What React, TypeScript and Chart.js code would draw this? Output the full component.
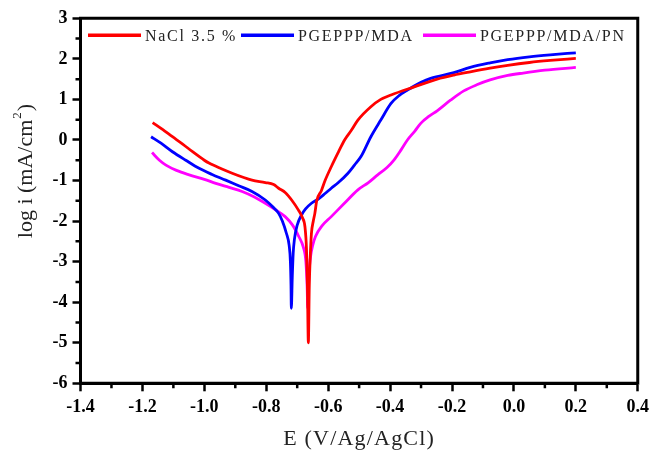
import React, { useEffect, useRef } from "react";
import { Chart, registerables } from "chart.js";

Chart.register(...registerables);

// ---- data ----
const seriesNames = ["NaCl 3.5 %", "PGEPPP/MDA", "PGEPPP/MDA/PN"];
const seriesColors = ["#ff0000", "#0000ff", "#ff00ff"];

const naclE = [-1.167, -1.135, -1.103, -1.07, -1.038, -1.0, -0.985, -0.945, -0.91, -0.875, -0.846, -0.803, -0.776, -0.76, -0.738, -0.718, -0.696, -0.683, -0.675, -0.67, -0.667, -0.664, -0.661, -0.658, -0.654, -0.648, -0.643, -0.637, -0.622, -0.61, -0.59, -0.567, -0.547, -0.524, -0.504, -0.462, -0.43, -0.397, -0.322, -0.248, -0.194, -0.141, -0.077, -0.02, 0.05, 0.117, 0.2];
const naclLogI = [0.43, 0.26, 0.08, -0.1, -0.29, -0.5, -0.57, -0.71, -0.82, -0.92, -0.99, -1.05, -1.1, -1.19, -1.3, -1.48, -1.73, -1.92, -2.14, -2.7, -3.6, -5.0, -3.6, -2.9, -2.3, -2.0, -1.81, -1.5, -1.25, -1.0, -0.66, -0.3, 0.0, 0.25, 0.49, 0.82, 1.0, 1.11, 1.31, 1.5, 1.6, 1.68, 1.77, 1.84, 1.91, 1.96, 2.01];

const mdaE = [-1.172, -1.14, -1.103, -1.06, -1.017, -0.975, -0.931, -0.889, -0.846, -0.803, -0.78, -0.76, -0.748, -0.735, -0.726, -0.722, -0.72, -0.719, -0.716, -0.713, -0.709, -0.7, -0.686, -0.673, -0.654, -0.631, -0.61, -0.59, -0.567, -0.536, -0.515, -0.494, -0.462, -0.43, -0.397, -0.37, -0.344, -0.3, -0.269, -0.194, -0.141, -0.077, -0.02, 0.05, 0.117, 0.2];
const mdaLogI = [0.08, -0.08, -0.29, -0.5, -0.7, -0.85, -0.99, -1.13, -1.27, -1.48, -1.64, -1.81, -2.0, -2.3, -2.6, -3.0, -3.6, -4.15, -3.4, -2.8, -2.45, -2.1, -1.85, -1.7, -1.56, -1.45, -1.32, -1.19, -1.05, -0.82, -0.62, -0.41, 0.08, 0.49, 0.9, 1.1, 1.23, 1.42, 1.52, 1.66, 1.79, 1.9, 1.98, 2.05, 2.1, 2.15];

const pnE = [-1.169, -1.145, -1.124, -1.09, -1.049, -1.0, -0.963, -0.92, -0.878, -0.84, -0.803, -0.77, -0.739, -0.715, -0.695, -0.68, -0.672, -0.668, -0.666, -0.663, -0.66, -0.657, -0.65, -0.641, -0.62, -0.59, -0.55, -0.504, -0.47, -0.44, -0.41, -0.387, -0.365, -0.344, -0.32, -0.301, -0.275, -0.248, -0.205, -0.162, -0.12, -0.077, -0.02, 0.03, 0.1, 0.2];
const pnLogI = [-0.31, -0.5, -0.62, -0.75, -0.86, -0.97, -1.07, -1.17, -1.27, -1.4, -1.56, -1.72, -1.89, -2.1, -2.38, -2.65, -3.0, -3.6, -4.15, -3.5, -3.1, -2.88, -2.6, -2.38, -2.12, -1.89, -1.58, -1.23, -1.05, -0.86, -0.68, -0.49, -0.25, 0.0, 0.22, 0.41, 0.58, 0.72, 0.98, 1.21, 1.36, 1.48, 1.59, 1.65, 1.72, 1.79];

const xMinorTicks = [-1.3, -1.1, -0.9, -0.7, -0.5, -0.3, -0.1, 0.1, 0.3];
const yMinorTicks = [2.5, 1.5, 0.5, -0.5, -1.5, -2.5, -3.5, -4.5, -5.5];

const xTitle = "E (V/Ag/AgCl)";
const yTitleMain = "log i (mA/cm";
const yTitleSup = "2";
const yTitleEnd = ")";

const toPoints = (xs: number[], ys: number[]) => xs.map((x, i) => ({ x, y: ys[i] }));

const decorPlugin = {
  id: "decor",
  afterDraw(chart: any) {
    const { ctx, chartArea: ca } = chart;
    const xs = chart.scales.x;
    const ys = chart.scales.y;
    ctx.save();
    // frame
    ctx.strokeStyle = "#000";
    ctx.lineWidth = 3;
    ctx.beginPath();
    ctx.moveTo(ca.left, ca.bottom);
    ctx.lineTo(ca.left, ca.top);
    ctx.lineTo(ca.right, ca.top);
    ctx.lineTo(ca.right, ca.bottom);
    ctx.lineTo(ca.left, ca.bottom);
    ctx.stroke();
    // minor ticks
    ctx.lineWidth = 2.5;
    ctx.beginPath();
    xMinorTicks.forEach((v) => {
      const p = xs.getPixelForValue(v);
      ctx.moveTo(p, ca.bottom);
      ctx.lineTo(p, ca.bottom + 5);
    });
    yMinorTicks.forEach((v) => {
      const p = ys.getPixelForValue(v);
      ctx.moveTo(ca.left, p);
      ctx.lineTo(ca.left - 5, p);
    });
    ctx.stroke();

    // legend
    const legendY = ca.top + 17;
    const legendX = [88, 241, 423];
    ctx.font = "16px 'Liberation Serif'";
    (ctx as any).letterSpacing = "1.7px";
    ctx.textBaseline = "middle";
    ctx.textAlign = "left";
    seriesNames.forEach((name, i) => {
      ctx.strokeStyle = seriesColors[i];
      ctx.lineWidth = 3.5;
      ctx.beginPath();
      ctx.moveTo(legendX[i], legendY);
      ctx.lineTo(legendX[i] + 53, legendY);
      ctx.stroke();
      ctx.fillStyle = "#222";
      ctx.fillText(name, legendX[i] + 57, legendY + 1);
    });

    // x title
    ctx.font = "22px 'Liberation Serif'";
    (ctx as any).letterSpacing = "1.2px";
    ctx.fillStyle = "#222";
    ctx.textAlign = "center";
    ctx.textBaseline = "alphabetic";
    ctx.fillText(xTitle, (ca.left + ca.right) / 2, 445);

    // y title
    (ctx as any).letterSpacing = "0px";
    ctx.translate(32, 171);
    ctx.rotate(-Math.PI / 2);
    ctx.font = "22px 'Liberation Serif'";
    const w1 = ctx.measureText(yTitleMain).width;
    ctx.font = "13px 'Liberation Serif'";
    const w2 = ctx.measureText(yTitleSup).width;
    ctx.font = "22px 'Liberation Serif'";
    const w3 = ctx.measureText(yTitleEnd).width;
    const total = w1 + w2 + w3 + 2;
    const x0 = -total / 2;
    ctx.textAlign = "left";
    ctx.fillText(yTitleMain, x0, 0);
    ctx.font = "13px 'Liberation Serif'";
    ctx.fillText(yTitleSup, x0 + w1 + 1, -11);
    ctx.font = "22px 'Liberation Serif'";
    ctx.fillText(yTitleEnd, x0 + w1 + w2 + 2, 0);
    ctx.restore();
  },
};

export default function App() {
  const ref = useRef<HTMLCanvasElement | null>(null);
  useEffect(() => {
    if (!ref.current) return;
    const tickFont = { family: "'Liberation Serif'", size: 18, weight: "bold" as const };
    const chart = new Chart(ref.current, {
      type: "line",
      data: {
        datasets: [
          { label: seriesNames[0], data: toPoints(naclE, naclLogI), borderColor: seriesColors[0] },
          { label: seriesNames[1], data: toPoints(mdaE, mdaLogI), borderColor: seriesColors[1] },
          { label: seriesNames[2], data: toPoints(pnE, pnLogI), borderColor: seriesColors[2] },
        ].map((d) => ({
          ...d,
          borderWidth: 2.8,
          pointRadius: 0,
          fill: false,
          cubicInterpolationMode: "monotone" as const,
        })),
      },
      options: {
        responsive: false,
        animation: false,
        devicePixelRatio: 1,
        layout: { padding: { top: 18.3, right: 12, left: 0, bottom: 0 } },
        plugins: { legend: { display: false }, tooltip: { enabled: false } },
        scales: {
          x: {
            type: "linear",
            min: -1.4,
            max: 0.4,
            afterFit: (s: any) => {
              s.height = 450 - 383.3;
            },
            ticks: {
              stepSize: 0.2,
              color: "#000",
              font: tickFont,
              padding: 5,
              maxRotation: 0,
              callback: (v: any) => Number(v).toFixed(1),
            },
            grid: { drawOnChartArea: false, drawTicks: true, tickLength: 8, tickWidth: 2.5, tickColor: "#000" },
            border: { display: true, color: "#000", width: 3 },
          },
          y: {
            type: "linear",
            min: -6,
            max: 3,
            afterFit: (s: any) => {
              s.width = 80.5;
            },
            ticks: {
              stepSize: 1,
              color: "#000",
              font: tickFont,
              padding: 5,
              callback: (v: any) => String(Math.round(Number(v))),
            },
            grid: { drawOnChartArea: false, drawTicks: true, tickLength: 8, tickWidth: 2.5, tickColor: "#000" },
            border: { display: true, color: "#000", width: 3 },
          },
        },
      },
      plugins: [decorPlugin],
    });
    return () => chart.destroy();
  }, []);
  return (
    <div style={{ position: "absolute", left: 0, top: 0, width: 654, height: 450, background: "#fff" }}>
      <canvas ref={ref} width={654} height={450} style={{ display: "block", width: 654, height: 450 }} />
    </div>
  );
}
